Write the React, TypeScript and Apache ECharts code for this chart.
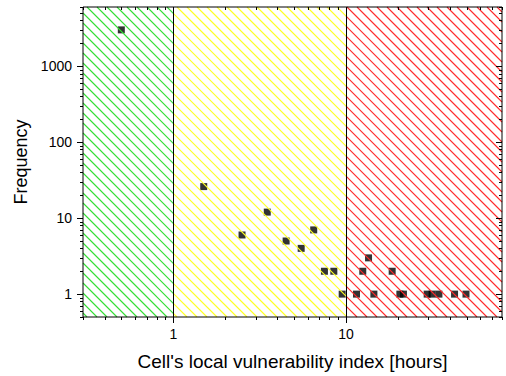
import React, { useEffect, useRef } from "react";
import * as echarts from "echarts";

// ---- data ----
const cellIndexHours = [
  0.5, 1.5, 2.5, 3.5, 4.5, 5.5, 6.5, 7.5, 8.5, 9.5, 11.5, 12.5, 13.5, 14.5,
  18.5, 20.5, 21.5, 29.5, 31.5, 34.5, 42.5, 49.5,
];
const frequency = [
  3000, 26, 6, 12, 5, 4, 7, 2, 2, 1, 1, 2, 3, 1, 2, 1, 1, 1, 1, 1, 1, 1,
];

// vulnerability zones (low / medium / high)
const zoneStarts = [0.3, 1, 10];
const zoneEnds = [1, 10, 80];
const zoneColors = ["#33dd33", "#ffff22", "#ff2a2a"];

// axes
const xRange = [0.3, 80];
const yRange = [0.5, 6000];
const xMajorTicks = [1, 10];
const xMinorTicks = [
  0.3, 0.4, 0.5, 0.6, 0.7, 0.8, 0.9, 2, 3, 4, 5, 6, 7, 8, 9, 20, 30, 40, 50,
  60, 70, 80,
];
const yMajorTicks = [1, 10, 100, 1000];
const yMinorTicks = [
  0.5, 0.6, 0.7, 0.8, 0.9, 2, 3, 4, 5, 6, 7, 8, 9, 20, 30, 40, 50, 60, 70, 80,
  90, 200, 300, 400, 500, 600, 700, 800, 900, 2000, 3000, 4000, 5000, 6000,
];

const FONT = "Arial, 'Liberation Sans', Helvetica, sans-serif";

function powerLabel(v: number): string {
  const l = Math.log10(v);
  const r = Math.round(l);
  if (Math.abs(l - r) < 1e-6) {
    const p = Math.pow(10, r);
    return p >= 1 ? String(Math.round(p)) : String(p);
  }
  return "";
}

function xTickSeries(values: number[], len: number) {
  return {
    type: "custom",
    silent: true,
    clip: false,
    z: 5,
    data: values.map((v) => [v, yRange[0]]),
    renderItem: (params: any, api: any) => {
      const cs = params.coordSys;
      const x = Math.round(api.coord([api.value(0), yRange[0]])[0]) + 0.5;
      const bottom = cs.y + cs.height;
      const top = cs.y;
      return {
        type: "group",
        children: [
          {
            type: "line",
            shape: { x1: x, y1: bottom, x2: x, y2: bottom + len },
            style: { stroke: "#000", lineWidth: 1 },
          },
          {
            type: "line",
            shape: { x1: x, y1: top, x2: x, y2: top + len },
            style: { stroke: "#000", lineWidth: 1 },
          },
        ],
      };
    },
  };
}

function yTickSeries(values: number[], len: number) {
  return {
    type: "custom",
    silent: true,
    clip: false,
    z: 5,
    data: values.map((v) => [xRange[0], v]),
    renderItem: (params: any, api: any) => {
      const cs = params.coordSys;
      const y = Math.round(api.coord([xRange[0], api.value(1)])[1]) + 0.5;
      const left = cs.x;
      const right = cs.x + cs.width;
      return {
        type: "group",
        children: [
          {
            type: "line",
            shape: { x1: left - len, y1: y, x2: left, y2: y },
            style: { stroke: "#000", lineWidth: 1 },
          },
          {
            type: "line",
            shape: { x1: right - len, y1: y, x2: right, y2: y },
            style: { stroke: "#000", lineWidth: 1 },
          },
        ],
      };
    },
  };
}

export default function App() {
  const ref = useRef<HTMLDivElement>(null);

  useEffect(() => {
    if (!ref.current) return;
    const chart = echarts.init(ref.current, undefined, { renderer: "svg" });

    const hatchPeriod = 10;

    const option: any = {
      animation: false,
      backgroundColor: "#fff",
      grid: {
        left: 83,
        right: 4,
        top: 7,
        bottom: 57,
        containLabel: false,
        show: true,
        borderColor: "#000",
        borderWidth: 1,
        backgroundColor: "transparent",
        z: 10,
      },
      xAxis: {
        type: "log",
        logBase: 10,
        min: xRange[0],
        max: xRange[1],
        name: "Cell's local vulnerability index [hours]",
        nameLocation: "middle",
        nameGap: 35,
        nameTextStyle: { fontSize: 19, color: "#000", fontFamily: FONT },
        axisLine: { show: false },
        axisTick: { show: false },
        minorTick: { show: false },
        splitLine: { show: false },
        axisLabel: {
          margin: 10,
          fontSize: 14,
          color: "#000",
          fontFamily: FONT,
          formatter: (v: number) => powerLabel(v),
          showMinLabel: true,
          showMaxLabel: true,
        },
      },
      yAxis: {
        type: "log",
        logBase: 10,
        min: yRange[0],
        max: yRange[1],
        name: "Frequency",
        nameLocation: "middle",
        nameGap: 50,
        nameTextStyle: { fontSize: 18, color: "#000", fontFamily: FONT },
        axisLine: { show: false },
        axisTick: { show: false },
        minorTick: { show: false },
        splitLine: { show: false },
        axisLabel: {
          margin: 11,
          fontSize: 14,
          color: "#000",
          fontFamily: FONT,
          formatter: (v: number) => powerLabel(v),
        },
      },
      series: [
        {
          type: "scatter",
          symbol: "rect",
          symbolSize: 7,
          z: 2,
          itemStyle: { color: "#000" },
          data: cellIndexHours.map((x, i) => [x, frequency[i]]),
        },
        {
          type: "custom",
          silent: true,
          clip: false,
          z: 3,
          data: zoneStarts.map((s, i) => [s, zoneEnds[i]]),
          renderItem: (params: any, api: any) => {
            const cs = params.coordSys;
            const x0 = api.coord([api.value(0), yRange[0]])[0];
            const x1 = api.coord([api.value(1), yRange[0]])[0];
            const T = cs.y;
            const B = cs.y + cs.height;
            const color = zoneColors[params.dataIndex];
            const children: any[] = [];
            const cMin = T - x1;
            const cMax = B - x0;
            const start = Math.ceil(cMin / hatchPeriod) * hatchPeriod;
            for (let c = start; c <= cMax; c += hatchPeriod) {
              const xa = Math.max(x0, T - c);
              const xb = Math.min(x1, B - c);
              if (xb > xa + 0.5) {
                children.push({
                  type: "line",
                  shape: { x1: xa, y1: xa + c, x2: xb, y2: xb + c },
                  style: { stroke: color, lineWidth: 1.1 },
                });
              }
            }
            if (params.dataIndex > 0) {
              const bx = Math.round(x0) + 0.5;
              children.push({
                type: "line",
                shape: { x1: bx, y1: T, x2: bx, y2: B },
                style: { stroke: "#000", lineWidth: 1 },
              });
            }
            return { type: "group", children };
          },
        },
        xTickSeries(xMajorTicks, 6),
        xTickSeries(xMinorTicks, 3),
        yTickSeries(yMajorTicks, 6),
        yTickSeries(yMinorTicks, 3),
      ],
    };

    chart.setOption(option);
    return () => {
      chart.dispose();
    };
  }, []);

  return (
    <div
      ref={ref}
      style={{
        position: "absolute",
        left: 0,
        top: 0,
        width: 506,
        height: 376,
      }}
    />
  );
}
